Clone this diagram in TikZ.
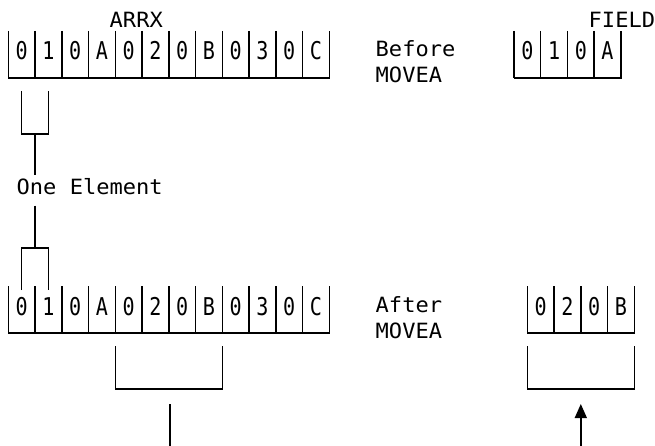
\documentclass[tikz,border=0pt]{standalone}
\usepackage{fontspec}
\usetikzlibrary{positioning,arrows.meta,calc}
\newfontfamily\cellfont[FakeStretch=0.82]{DejaVu Sans Mono}
\newfontfamily\labelfont[FakeStretch=1.05]{DejaVu Sans Mono}

\begin{document}
\begin{tikzpicture}[x=1pt,y=-1pt,line width=1.4pt,
  digit/.style={inner sep=0pt,anchor=base,font=\cellfont\fontsize{24.5}{26}\selectfont},
  lbl/.style={inner sep=0pt,anchor=base west,font=\labelfont\fontsize{21}{24}\selectfont}]
\useasboundingbox (0,0) rectangle (655,446);
% ARRX before MOVEA
\begin{scope}[shift={(8.3,31)}]
\foreach \d [count=\i from 0] in {0,1,0,A,0,2,0,B,0,3,0,C}{
  \node[digit] (a\i) at (\i*26.75+13.4,29) {\d};
  \draw (\i*26.75,0) -- ++(0,47);}
\draw (0,47) -- (321,47) -- (321,0);
\end{scope}
% FIELD before MOVEA
\begin{scope}[shift={(514,31)}]
\foreach \d [count=\i from 0] in {0,1,0,A}{
  \node[digit] (f\i) at (\i*26.7+13.4,29) {\d};
  \draw (\i*26.7,0) -- ++(0,47);}
\draw (0,47) -- (106.8,47) -- (106.8,0);
\end{scope}
% ARRX after MOVEA
\begin{scope}[shift={(8.3,286)}]
\foreach \d [count=\i from 0] in {0,1,0,A,0,2,0,B,0,3,0,C}{
  \node[digit] (b\i) at (\i*26.75+13.4,29) {\d};
  \draw (\i*26.75,0) -- ++(0,47);}
\draw (0,47) -- (321,47) -- (321,0);
\end{scope}
% FIELD after MOVEA
\begin{scope}[shift={(527.3,286)}]
\foreach \d [count=\i from 0] in {0,2,0,B}{
  \node[digit] (g\i) at (\i*26.75+13.4,29) {\d};
  \draw (\i*26.75,0) -- ++(0,47);}
\draw (0,47) -- (107,47) -- (107,0);
\end{scope}
% labels
\node[lbl] (arrx) at (109,28) {ARRX};
\node[lbl] (field) at (588,28) {FIELD};
\node[lbl] (before) at (375,57) {Before};
\node[lbl] (mvbefore) at (375,83) {MOVEA};
\node[lbl] (after) at (375,312) {After};
\node[lbl] (mvafter) at (375,338) {MOVEA};
\node[lbl,inner sep=3pt,text depth=7pt] (one) at (13,195) {One Element};
% one element
\draw (21.7,91) -- (21.7,134) -- (48.4,134) -- (48.4,91);
\coordinate (pick) at (35,134);
\coordinate (put) at (35,248);
\draw (pick) -- (pick |- one.north);
\draw (put |- one.south) -- (put);
\draw (21.7,290) -- (21.7,248) -- (48.4,248) -- (48.4,290);
% elements moved into FIELD
\draw (115.3,346) -- (115.3,389) -- (222.3,389) -- (222.3,346);
\coordinate (srcstem) at (169.8,404);
\coordinate (srcend) at (169.8,446);
\draw (srcstem) -- (srcend);
\draw (527.3,346) -- (527.3,389) -- (634.3,389) -- (634.3,346);
\coordinate (tgtend) at (580.8,446);
\coordinate (tgttip) at (580.8,404);
\draw[-{Triangle[length=14pt,width=12pt]}] (tgtend) -- (tgttip);
\end{tikzpicture}
\end{document}
